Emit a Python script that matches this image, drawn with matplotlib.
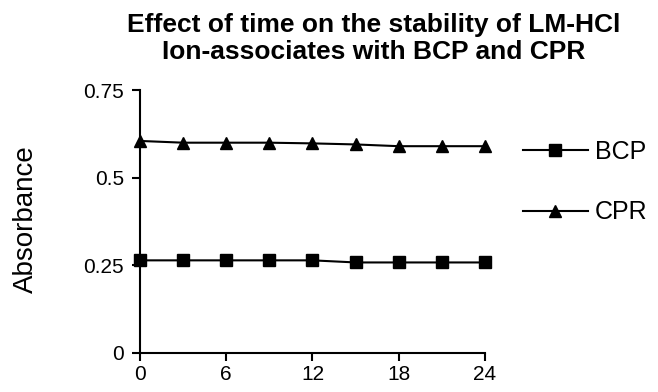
import matplotlib.pyplot as plt

plt.rcParams['font.family'] = ['Liberation Sans', 'DejaVu Sans']

# time (min) and absorbance readings
time_points = [0, 3, 6, 9, 12, 15, 18, 21, 24]
bcp_values = [0.264, 0.264, 0.264, 0.264, 0.264, 0.258, 0.258, 0.258, 0.258]
cpr_values = [0.605, 0.60, 0.60, 0.60, 0.598, 0.595, 0.59, 0.59, 0.59]

x_ticks = [0, 6, 12, 18, 24]
y_ticks = [0, 0.25, 0.5, 0.75]
y_tick_labels = ["0", "0.25", "0.5", "0.75"]

fig = plt.figure(figsize=(6.58, 3.92), dpi=100)
ax = fig.add_axes([0.2128, 0.100, 0.5242, 0.670])

ax.plot(time_points, bcp_values, color="black", lw=1.5, marker="s",
        markersize=8.8, label="BCP", clip_on=False)
ax.plot(time_points, cpr_values, color="black", lw=1.5, marker="^",
        markersize=8.5, label="CPR", clip_on=False)

ax.set_xlim(0, 24)
ax.set_ylim(0, 0.75)
ax.set_xticks(x_ticks)
ax.set_yticks(y_ticks)
ax.set_yticklabels(y_tick_labels)
ax.tick_params(direction="out", length=5.5, width=1.5, labelsize=15)
ax.tick_params(axis="y", pad=6)
ax.tick_params(axis="x", pad=3.5)

for side in ["top", "right"]:
    ax.spines[side].set_visible(False)
for side in ["left", "bottom"]:
    ax.spines[side].set_linewidth(1.5)

fig.text(0.040, 0.44, "Absorbance", rotation=90, ha="center", va="center",
         fontsize=20)

fig.text(0.568, 0.937, "Effect of time on the stability of LM-HCl",
         ha="center", va="center", fontsize=19, fontweight="bold")
fig.text(0.568, 0.868, "Ion-associates with BCP and CPR",
         ha="center", va="center", fontsize=19, fontweight="bold")

ax.legend(loc="upper left", bbox_to_anchor=(1.11, 0.81), frameon=False,
          fontsize=18, handlelength=2.6, handletextpad=0.28,
          labelspacing=1.45, borderaxespad=0, borderpad=0)

fig.savefig("out.png", dpi=100)
